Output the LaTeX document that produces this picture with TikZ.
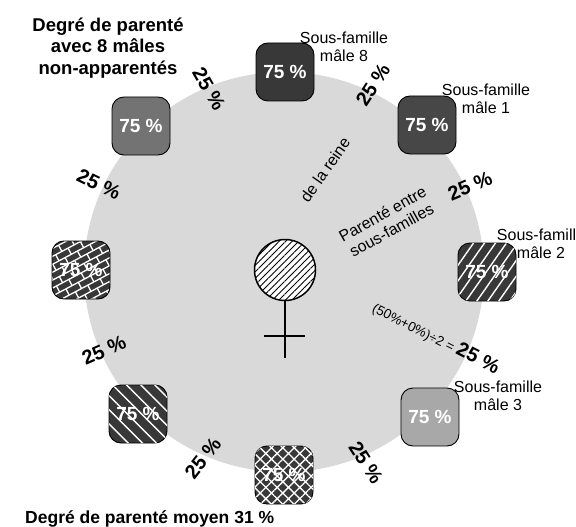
\documentclass[tikz,border=0pt]{standalone}
\usepackage{fontspec}
\setmainfont{Liberation Sans}
\usetikzlibrary{patterns.meta}
\definecolor{disc}{gray}{0.85}
\definecolor{darkA}{gray}{0.22}
\definecolor{darkB}{gray}{0.28}
\definecolor{midG}{gray}{0.45}
\definecolor{lightG}{gray}{0.66}
\definecolor{patbg}{gray}{0.22}
\begin{document}
\begin{tikzpicture}[x=1pt,y=-1pt,
  box/.style={draw=black,line width=0.9pt,rounded corners=12pt,minimum width=58pt,minimum height=58pt,inner sep=0pt,font=\fontsize{19}{21}\selectfont\bfseries,text=white},
  pct/.style={font=\fontsize{20}{22}\selectfont\bfseries,inner sep=0pt},
  lbl/.style={font=\fontsize{16}{18.5}\selectfont,align=center,inner sep=0pt},
  ttl/.style={font=\fontsize{18.5}{21.5}\selectfont\bfseries,align=center,inner sep=0pt},
  wl/.style={white,line width=1.3pt}]
\useasboundingbox (0,0) rectangle (576,527);
% shaded disc
\fill[disc] (284,272) circle (200);
% female symbol
\node[circle,draw=black,line width=1.5pt,fill=white,minimum size=61pt,inner sep=0pt,
  postaction={pattern={Lines[angle=45,distance=4.6pt,line width=0.8pt]},pattern color=black}] (fem) at (285,270) {};
\coordinate (stemEnd) at (285,358);
\coordinate (barL) at (264,336);
\coordinate (barR) at (305,336);
\draw[line width=2pt] (fem.south) -- (stemEnd);
\draw[line width=2pt] (barL) -- (barR);
% boxes
\node[box,fill=darkA] (m8) at (285,72) {75 \%};
\node[box,fill=darkB] (m1) at (427,125) {75 \%};
\node[box,fill=patbg,postaction={pattern={Lines[angle=55,distance=9pt,line width=1.4pt]},pattern color=white}] (m2) at (487,272) {75 \%};
\node[box,fill=lightG] (m3) at (430,417) {75 \%};
\node[box,fill=patbg,postaction={pattern={Hatch[angle=45,distance=8pt,line width=1.3pt]},pattern color=white}] (mb) at (284,475) {75 \%};
\node[box,fill=patbg,postaction={pattern={Lines[angle=-45,distance=10pt,line width=1.4pt]},pattern color=white}] (mbl) at (138,414) {75 \%};
\node[box,fill=patbg,path picture={
  \begin{scope}[shift={(path picture bounding box.center)}]
    \foreach \r in {-6,...,6} {\draw[wl] ({-60*cos(28)+\r*7*sin(28)},{60*sin(28)+\r*7*cos(28)}) -- ({60*cos(28)+\r*7*sin(28)},{-60*sin(28)+\r*7*cos(28)});}
    \foreach \r in {-6,-4,...,6} {\foreach \c in {-56,-42,...,56} {\draw[wl] ({\c*cos(28)+\r*7*sin(28)},{-\c*sin(28)+\r*7*cos(28)}) -- ({\c*cos(28)+(\r*7+7)*sin(28)},{-\c*sin(28)+(\r*7+7)*cos(28)});}}
    \foreach \r in {-5,-3,...,5} {\foreach \c in {-63,-49,...,63} {\draw[wl] ({\c*cos(28)+\r*7*sin(28)},{-\c*sin(28)+\r*7*cos(28)}) -- ({\c*cos(28)+(\r*7+7)*sin(28)},{-\c*sin(28)+(\r*7+7)*cos(28)});}}
  \end{scope}}] (ml) at (81,270) {75 \%};
\node[box,fill=midG] (mtl) at (141,126) {75 \%};
% sub-family labels
\node[lbl] (t8) at (344,47) {Sous-famille\\mâle 8};
\node[lbl] (t1) at (486,99) {Sous-famille\\mâle 1};
\node[lbl] (t2) at (541,244) {Sous-famille\\mâle 2};
\node[lbl] (t3) at (498,396) {Sous-famille\\mâle 3};
% 25 % labels
\node[pct,rotate=-60] (p1) at (209,89) {25 \%};
\node[pct,rotate=57] (p2) at (373,85) {25 \%};
\node[pct,rotate=23] (p3) at (470,186) {25 \%};
\node[pct,rotate=-57] (p5) at (366,463) {25 \%};
\node[pct,rotate=52] (p6) at (203,458) {25 \%};
\node[pct,rotate=24] (p7) at (104,350) {25 \%};
\node[pct,rotate=-26] (p8) at (99,184) {25 \%};
\node[inner sep=0pt,rotate=-27] (p4) at (436,338) {\fontsize{13.5}{15}\selectfont(50\%+0\%)÷2 = \fontsize{20}{22}\selectfont\bfseries 25 \%};
% inner texts
\node[lbl,rotate=55] (reine) at (325,170) {de la reine};
\node[lbl,rotate=29] (entre) at (387,222) {Parenté entre\\sous-familles};
% titles
\node[ttl] (title) at (108,48) {Degré de parenté\\avec 8 mâles\\non-apparentés};
\node[ttl,font=\fontsize{17.5}{21}\selectfont\bfseries,anchor=base west] (avg) at (25,523) {Degré de parenté moyen 31 \%};
\end{tikzpicture}
\end{document}
